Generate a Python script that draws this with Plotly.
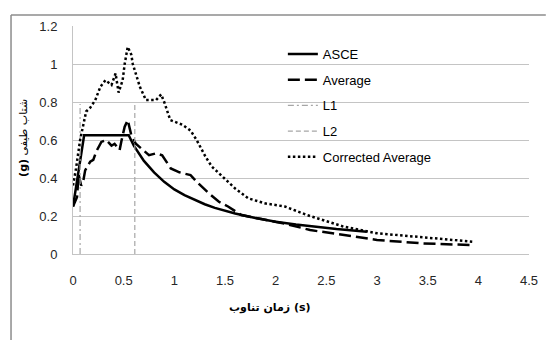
import plotly.graph_objects as go

# ---- data ----
asce_t = [0, 0.11, 0.55, 0.6, 0.7, 0.8, 0.9, 1.0, 1.1, 1.2, 1.3, 1.4, 1.5, 1.6, 1.8, 2.0, 2.2, 2.4, 2.6, 2.9]
asce_v = [0.25, 0.625, 0.625, 0.57, 0.49, 0.43, 0.38, 0.34, 0.31, 0.285, 0.262, 0.243, 0.227, 0.213, 0.19, 0.17,
          0.155, 0.142, 0.131, 0.117]

avg_t = [0, 0.04, 0.055, 0.08, 0.1, 0.12, 0.17, 0.2, 0.23, 0.28, 0.33, 0.38, 0.41, 0.46, 0.48, 0.51, 0.54, 0.575,
         0.62, 0.7, 0.75, 0.82, 0.88, 0.965, 1.05, 1.16, 1.24, 1.34, 1.44, 1.53, 1.66, 1.86, 2.02, 2.09, 2.34,
         2.67, 3.0, 3.45, 3.94]
avg_v = [0.25, 0.3, 0.42, 0.36, 0.38, 0.44, 0.486, 0.495, 0.54, 0.59, 0.6, 0.57, 0.58, 0.547, 0.6, 0.67, 0.705,
         0.626, 0.58, 0.54, 0.52, 0.53, 0.52, 0.45, 0.43, 0.415, 0.37, 0.32, 0.275, 0.25, 0.205, 0.184, 0.17,
         0.16, 0.126, 0.1, 0.074, 0.056, 0.047]

cor_t = [0, 0.03, 0.07, 0.1, 0.13, 0.17, 0.22, 0.27, 0.32, 0.38, 0.42, 0.45, 0.49, 0.51, 0.54, 0.575, 0.59,
         0.66, 0.72, 0.82, 0.87, 0.9, 0.96, 1.08, 1.16, 1.22, 1.31, 1.37, 1.47, 1.6, 1.73, 1.89, 2.09, 2.31,
         2.67, 3.0, 3.45, 3.94]
cor_v = [0.36, 0.45, 0.6, 0.68, 0.75, 0.77, 0.81, 0.88, 0.915, 0.89, 0.95, 0.85, 0.915, 1.0, 1.09, 1.05, 1.0,
         0.88, 0.81, 0.81, 0.84, 0.80, 0.705, 0.68, 0.65, 0.6, 0.51, 0.46, 0.41, 0.345, 0.293, 0.267, 0.25, 0.205,
         0.144, 0.109, 0.088, 0.065]

l1_t = [0.07, 0.07]
l1_v = [0, 0.79]
l2_t = [0.61, 0.61]
l2_v = [0, 0.8]

x_ticks = [0, 0.5, 1, 1.5, 2, 2.5, 3, 3.5, 4, 4.5]
y_ticks = [0, 0.2, 0.4, 0.6, 0.8, 1, 1.2]

FONT = "Liberation Sans, Arial, sans-serif"
GRID = "#c4c4c4"

fig = go.Figure()
fig.add_trace(go.Scatter(x=asce_t, y=asce_v, name="ASCE", mode="lines", legendgroup="a",
                         line=dict(color="black", width=2.5)))
fig.add_trace(go.Scatter(x=avg_t, y=avg_v, name="Average", mode="lines", legendgroup="b",
                         line=dict(color="black", width=2.5, dash="12px,5px")))
fig.add_trace(go.Scatter(x=l1_t, y=l1_v, name="L1", mode="lines", legendgroup="c",
                         line=dict(color="#a6a6a6", width=1.2, dash="6px,3px,2px,3px")))
fig.add_trace(go.Scatter(x=l2_t, y=l2_v, name="L2", mode="lines", legendgroup="d",
                         line=dict(color="#a6a6a6", width=1.2, dash="5px,3px")))
fig.add_trace(go.Scatter(x=cor_t, y=cor_v, name="Corrected Average", mode="lines", legendgroup="e",
                         line=dict(color="black", width=2.5, dash="2.5px,2.5px")))

ml, mr, mt, mb = 72.7, 16, 26, 86
pw = 550 - ml - mr
ph = 340 - mt - mb


def px_x(p):
    return (p - ml) / pw


def px_y(p):
    return (340 - mb - p) / ph


fig.update_layout(
    width=550, height=340,
    margin=dict(l=ml, r=mr, t=mt, b=mb, pad=0),
    paper_bgcolor="white", plot_bgcolor="white",
    font=dict(family=FONT, size=13, color="#262626"),
    showlegend=True,
    legend=dict(x=px_x(285), y=px_y(39), xanchor="left", yanchor="top",
                bgcolor="rgba(0,0,0,0)", font=dict(size=13, color="black"),
                traceorder="grouped", tracegroupgap=5.8, itemwidth=30),
    xaxis=dict(range=[0, 4.5], tickvals=x_ticks, ticktext=[f"{v:g}" for v in x_ticks],
               showgrid=False, zeroline=False, showline=True, linecolor=GRID, linewidth=1,
               ticks="", ticklabelstandoff=14, fixedrange=True),
    yaxis=dict(range=[0, 1.2], tickvals=y_ticks, ticktext=[f"{v:g}" for v in y_ticks],
               showgrid=True, gridcolor=GRID, gridwidth=1, zeroline=False, showline=True,
               linecolor=GRID, linewidth=1, ticks="", ticklabelstandoff=12, fixedrange=True),
    annotations=[
        dict(text="<b>زمان تناوب (s)</b>", xref="paper", yref="paper", x=px_x(272), y=px_y(307),
             showarrow=False, font=dict(family="DejaVu Sans", size=11, color="black"),
             xanchor="center", yanchor="middle"),
        dict(text="<b>(g)</b> شتاب طیفی", xref="paper", yref="paper", x=px_x(22), y=px_y(138),
             showarrow=False, textangle=-90, font=dict(family="DejaVu Sans", size=11, color="black"),
             xanchor="center", yanchor="middle"),
    ],
    shapes=[
        dict(type="line", xref="paper", yref="paper", x0=px_x(10), x1=px_x(551), y0=px_y(15), y1=px_y(15),
             line=dict(color="#8c8c8c", width=1.5)),
        dict(type="line", xref="paper", yref="paper", x0=px_x(10), x1=px_x(10), y0=px_y(15), y1=px_y(345),
             line=dict(color="#8c8c8c", width=1.5)),
    ],
)

fig.write_html("out.html")
